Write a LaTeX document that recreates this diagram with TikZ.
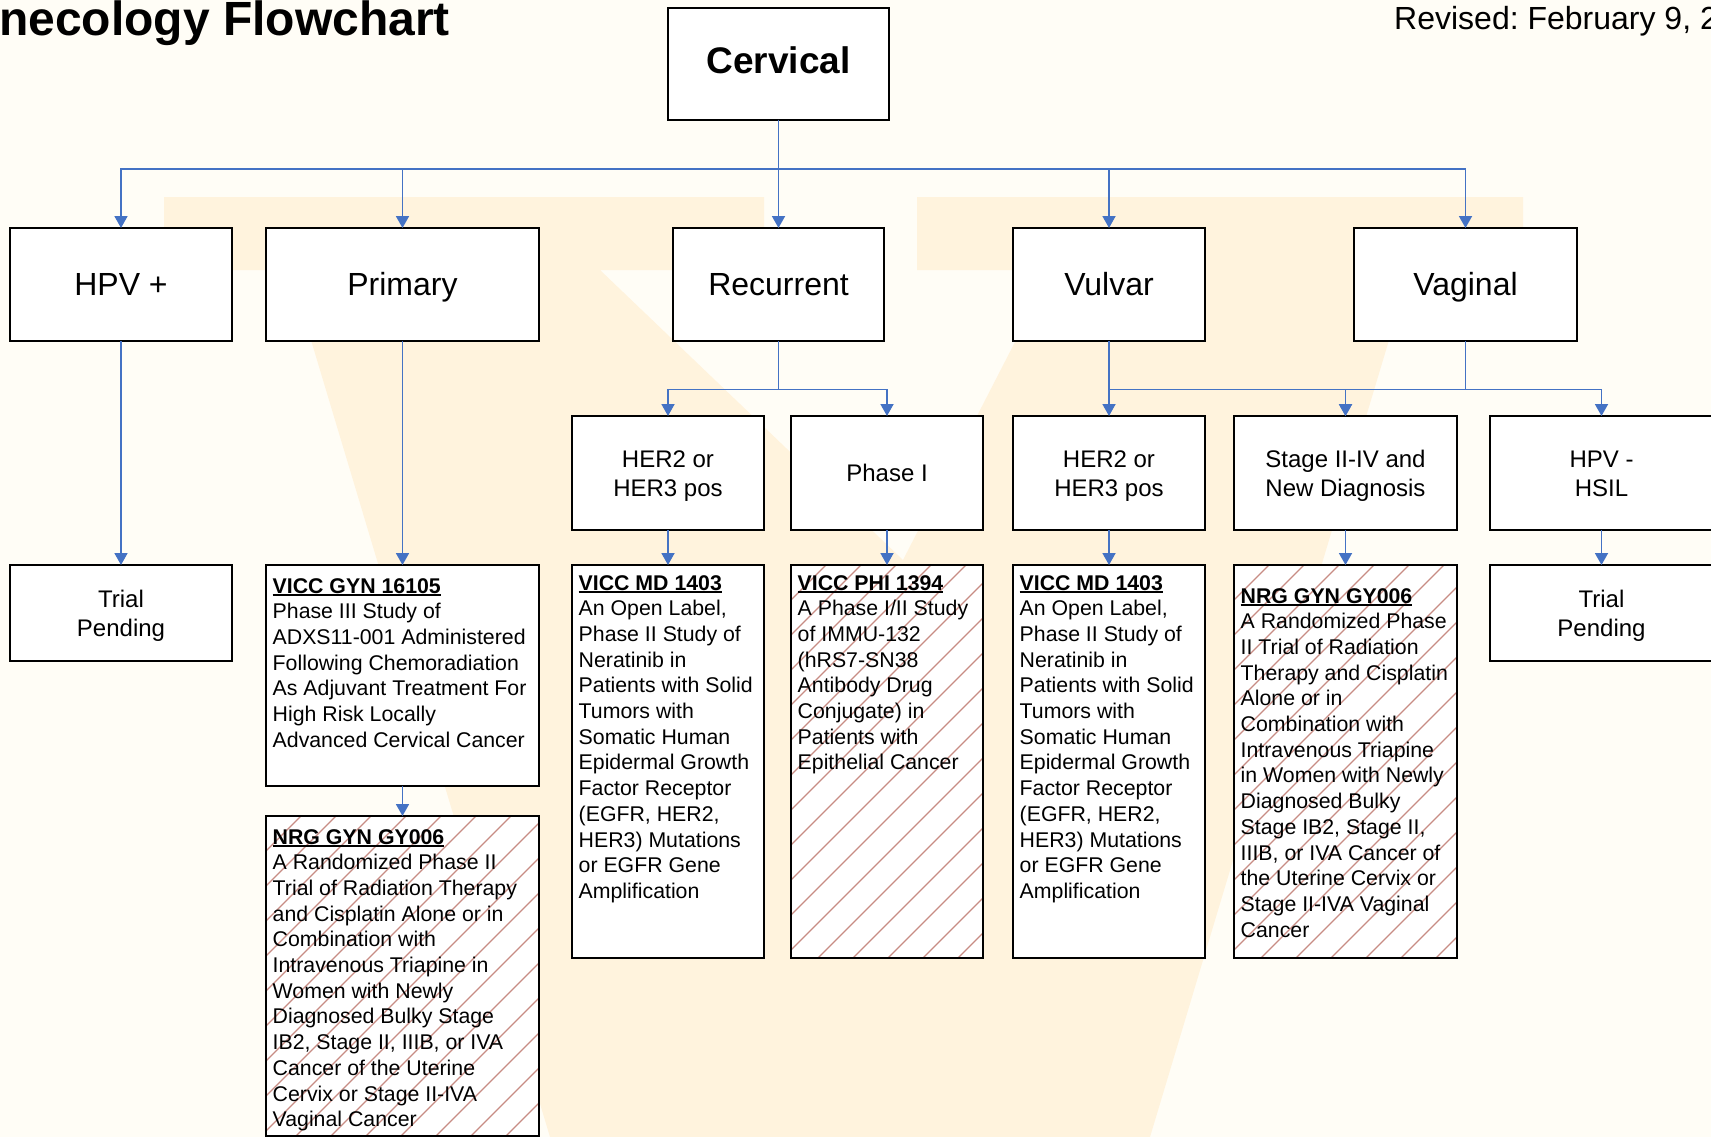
\documentclass[tikz,border=0pt]{standalone}
\usepackage{fontspec}
\setmainfont{Liberation Sans}
\usetikzlibrary{arrows.meta}
\definecolor{bgcream}{HTML}{FFFDF6}
\definecolor{wmgold}{HTML}{FFF3DD}
\definecolor{connblue}{HTML}{4472C4}
\definecolor{hatchred}{RGB}{200,140,132}
\newcommand\hdr[1]{\setbox0\hbox{\bfseries #1}\rlap{\rule[-2.6pt]{\wd0}{1.5pt}}\box0}
\newcommand\hatchfill[3]{%
  \begin{scope}
    \clip (#1.south west) rectangle (#1.north east);
    \foreach \c in {#2,#3,...,2450} {\draw[hatchln] (\c,0) -- ({\c-1200},1200);}
  \end{scope}
  \draw[line width=2pt] (#1.south west) rectangle (#1.north east);}
\tikzset{
  box/.style={draw=black, line width=2pt, fill=white, inner sep=0pt, outer sep=0pt, anchor=north west},
  arr/.style={draw=connblue, line width=1.8pt, -{Triangle[width=13pt,length=12pt]}},
  hatchln/.style={draw=hatchred, line width=1.3pt},
  labA/.style={font=\fontsize{32}{38}\selectfont, text height=21pt, text depth=0pt},
  labB/.style={font=\fontsize{24}{29}\selectfont, align=center, text height=46.3pt, text depth=0pt},
  labC/.style={font=\fontsize{24}{29}\selectfont, text height=17.3pt, text depth=0pt},
  body/.style={font=\fontsize{21.3}{25.7}\selectfont, align=left, inner sep=0pt, anchor=north west},
}
\frenchspacing
\begin{document}
\begin{tikzpicture}[x=1pt,y=-1pt]
\useasboundingbox (0,0) rectangle (1711,1137);
\clip (0,0) rectangle (1711,1137);
\fill[bgcream] (0,0) rectangle (1711,1137);
% watermark V
\fill[wmgold] (164,197) -- (764,197) -- (764,270) -- (600,270) -- (903,560) -- (1052,270)
  -- (917,270) -- (917,197) -- (1523,197) -- (1523,270) -- (1410,270) -- (1150,1137)
  -- (550,1137) -- (290,270) -- (164,270) -- cycle;

% titles
\node[anchor=base west, inner sep=0pt, font=\fontsize{48}{50}\selectfont\bfseries] (title) at (-1,36) {necology Flowchart};
\node[anchor=base west, inner sep=0pt, font=\fontsize{32}{36}\selectfont] (rev) at (1394,30) {Revised: February 9, 2};

% level 0
\node[box, minimum width=221pt, minimum height=112pt, font=\fontsize{37}{42}\selectfont\bfseries, text height=20pt, text depth=0pt] (cerv) at (668,8) {Cervical};

% level 1
\node[box, labA, minimum width=222pt, minimum height=113pt] (hpv) at (10,228) {HPV +};
\node[box, labA, minimum width=273pt, minimum height=113pt] (prim) at (266,228) {Primary};
\node[box, labA, minimum width=211pt, minimum height=113pt] (rec) at (673,228) {Recurrent};
\node[box, labA, minimum width=192pt, minimum height=113pt] (vul) at (1013,228) {Vulvar};
\node[box, labA, minimum width=223pt, minimum height=113pt] (vag) at (1354,228) {Vaginal};

% level 2
\node[box, labB, minimum width=192pt, minimum height=114pt] (h2a) at (572,416) {HER2 or\\HER3 pos};
\node[box, labC, minimum width=192pt, minimum height=114pt] (ph1) at (791,416) {Phase I};
\node[box, labB, minimum width=192pt, minimum height=114pt] (h2b) at (1013,416) {HER2 or\\HER3 pos};
\node[box, labB, minimum width=223pt, minimum height=114pt] (stg) at (1234,416) {Stage II-IV and\\New Diagnosis};
\node[box, labB, minimum width=223pt, minimum height=114pt] (hsil) at (1490,416) {HPV -\\HSIL};

% level 3
\node[box, labB, minimum width=222pt, minimum height=96pt] (tp1) at (10,565) {Trial\\Pending};
\node[box, minimum width=273pt, minimum height=221pt] (gyn) at (266,565) {};
\node[box, minimum width=192pt, minimum height=393pt] (md1) at (572,565) {};
\node[box, minimum width=192pt, minimum height=393pt] (phi) at (791,565) {};
\node[box, minimum width=192pt, minimum height=393pt] (md2) at (1013,565) {};
\node[box, minimum width=223pt, minimum height=393pt] (nrg2) at (1234,565) {};
\node[box, labB, minimum width=223pt, minimum height=96pt] (tp2) at (1490,565) {Trial\\Pending};
\node[box, minimum width=273pt, minimum height=320pt] (nrg1) at (266,816) {};

\hatchfill{phi}{1356}{1391}
\hatchfill{nrg2}{1799}{1834}
\hatchfill{nrg1}{1082}{1117}

\node[body] (gynt) at (272.5,578) {\hdr{VICC GYN 16105}\\Phase III Study of\\ADXS11-001 Administered\\Following Chemoradiation\\As Adjuvant Treatment For\\High Risk Locally\\Advanced Cervical Cancer};
\node[body] (md1t) at (578.5,575) {\hdr{VICC MD 1403}\\An Open Label,\\Phase II Study of\\Neratinib in\\Patients with Solid\\Tumors with\\Somatic Human\\Epidermal Growth\\Factor Receptor\\(EGFR, HER2,\\HER3) Mutations\\or EGFR Gene\\Amplification};
\node[body] (phit) at (797.5,575) {\hdr{VICC PHI 1394}\\A Phase I/II Study\\of IMMU-132\\(hRS7-SN38\\Antibody Drug\\Conjugate) in\\Patients with\\Epithelial Cancer};
\node[body] (md2t) at (1019.5,575) {\hdr{VICC MD 1403}\\An Open Label,\\Phase II Study of\\Neratinib in\\Patients with Solid\\Tumors with\\Somatic Human\\Epidermal Growth\\Factor Receptor\\(EGFR, HER2,\\HER3) Mutations\\or EGFR Gene\\Amplification};
\node[body] (nrg2t) at (1240.5,588) {\hdr{NRG GYN GY006}\\A Randomized Phase\\II Trial of Radiation\\Therapy and Cisplatin\\Alone or in\\Combination with\\Intravenous Triapine\\in Women with Newly\\Diagnosed Bulky\\Stage IB2, Stage II,\\IIIB, or IVA Cancer of\\the Uterine Cervix or\\Stage II-IVA Vaginal\\Cancer};
\node[body] (nrg1t) at (272.5,829) {\hdr{NRG GYN GY006}\\A Randomized Phase II\\Trial of Radiation Therapy\\and Cisplatin Alone or in\\Combination with\\Intravenous Triapine in\\Women with Newly\\Diagnosed Bulky Stage\\IB2, Stage II, IIIB, or IVA\\Cancer of the Uterine\\Cervix or Stage II-IVA\\Vaginal Cancer};

% connectors
\coordinate (bus1) at (0,169);
\coordinate (bus2) at (0,389.5);
\foreach \n in {hpv,prim,vul,vag} {\draw[arr] (cerv.south) -- (cerv.south |- bus1) -| (\n.north);}
\draw[arr] (cerv.south) -- (rec.north);
\draw[arr] (rec.south) -- (rec.south |- bus2) -| (h2a.north);
\draw[arr] (rec.south) -- (rec.south |- bus2) -| (ph1.north);
\draw[arr] (vul.south) -- (h2b.north);
\draw[arr] (vul.south) -- (vul.south |- bus2) -| (stg.north);
\draw[arr] (vag.south) -- (vag.south |- bus2) -| (stg.north);
\draw[arr] (vag.south) -- (vag.south |- bus2) -| (hsil.north);
\draw[arr] (hpv.south) -- (tp1.north);
\draw[arr] (prim.south) -- (gyn.north);
\draw[arr] (gyn.south) -- (nrg1.north);
\draw[arr] (h2a.south) -- (md1.north);
\draw[arr] (ph1.south) -- (phi.north);
\draw[arr] (h2b.south) -- (md2.north);
\draw[arr] (stg.south) -- (nrg2.north);
\draw[arr] (hsil.south) -- (tp2.north);
\end{tikzpicture}
\end{document}
